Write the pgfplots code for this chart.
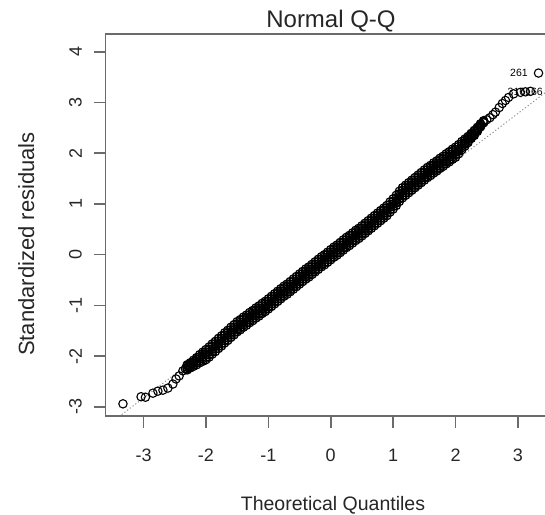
\documentclass[border=0pt]{standalone}
\usepackage{fontspec}
\setmainfont{Liberation Sans}
\usepackage{pgfplots}
\usepackage{pgfplotstable}
\pgfplotsset{compat=1.18}
\definecolor{boxgray}{gray}{0.42}

\pgfplotstableread{
x yl ya ym yb yu
-2.30 -2.27 -2.25 -2.22 -2.19 -2.17
-2.25 -2.23 -2.21 -2.18 -2.15 -2.13
-2.20 -2.20 -2.17 -2.14 -2.11 -2.08
-2.15 -2.17 -2.13 -2.10 -2.06 -2.03
-2.10 -2.13 -2.09 -2.05 -2.01 -1.97
-2.05 -2.10 -2.05 -2.01 -1.96 -1.92
-2.00 -2.07 -2.02 -1.97 -1.92 -1.87
-1.95 -2.02 -1.97 -1.92 -1.87 -1.82
-1.90 -1.96 -1.91 -1.86 -1.81 -1.76
-1.85 -1.91 -1.86 -1.81 -1.76 -1.71
-1.80 -1.85 -1.80 -1.75 -1.70 -1.65
-1.75 -1.80 -1.75 -1.70 -1.65 -1.60
-1.70 -1.74 -1.69 -1.64 -1.59 -1.54
-1.65 -1.69 -1.64 -1.59 -1.54 -1.49
-1.60 -1.63 -1.58 -1.53 -1.48 -1.43
-1.55 -1.58 -1.53 -1.48 -1.43 -1.38
-1.50 -1.52 -1.47 -1.42 -1.37 -1.32
-1.45 -1.48 -1.43 -1.38 -1.33 -1.28
-1.40 -1.43 -1.38 -1.33 -1.28 -1.23
-1.35 -1.39 -1.34 -1.29 -1.24 -1.19
-1.30 -1.34 -1.29 -1.24 -1.19 -1.14
-1.25 -1.30 -1.25 -1.20 -1.15 -1.10
-1.20 -1.25 -1.20 -1.15 -1.10 -1.05
-1.15 -1.21 -1.16 -1.11 -1.06 -1.01
-1.10 -1.16 -1.11 -1.06 -1.01 -0.96
-1.05 -1.12 -1.07 -1.02 -0.97 -0.92
-1.00 -1.07 -1.02 -0.97 -0.92 -0.87
-0.95 -1.02 -0.97 -0.92 -0.87 -0.82
-0.90 -0.97 -0.92 -0.87 -0.82 -0.77
-0.85 -0.92 -0.87 -0.82 -0.77 -0.72
-0.80 -0.87 -0.82 -0.77 -0.72 -0.67
-0.75 -0.82 -0.77 -0.72 -0.67 -0.62
-0.70 -0.78 -0.73 -0.68 -0.63 -0.58
-0.65 -0.73 -0.68 -0.63 -0.58 -0.53
-0.60 -0.68 -0.63 -0.58 -0.53 -0.48
-0.55 -0.63 -0.58 -0.53 -0.48 -0.43
-0.50 -0.58 -0.53 -0.48 -0.43 -0.38
-0.45 -0.53 -0.48 -0.43 -0.38 -0.33
-0.40 -0.48 -0.43 -0.38 -0.33 -0.28
-0.35 -0.44 -0.39 -0.34 -0.29 -0.24
-0.30 -0.39 -0.34 -0.29 -0.24 -0.19
-0.25 -0.34 -0.29 -0.24 -0.19 -0.14
-0.20 -0.29 -0.24 -0.19 -0.14 -0.09
-0.15 -0.24 -0.19 -0.14 -0.09 -0.04
-0.10 -0.20 -0.15 -0.10 -0.05 0.00
-0.05 -0.15 -0.10 -0.05 0.00 0.05
0.00 -0.10 -0.05 0.00 0.05 0.10
0.05 -0.05 0.00 0.05 0.10 0.15
0.10 -0.01 0.04 0.09 0.14 0.19
0.15 0.04 0.09 0.14 0.19 0.24
0.20 0.09 0.14 0.19 0.24 0.29
0.25 0.14 0.19 0.24 0.29 0.34
0.30 0.18 0.23 0.28 0.33 0.38
0.35 0.23 0.28 0.33 0.38 0.43
0.40 0.28 0.33 0.38 0.43 0.48
0.45 0.32 0.37 0.42 0.47 0.52
0.50 0.37 0.42 0.47 0.52 0.57
0.55 0.42 0.47 0.52 0.57 0.62
0.60 0.47 0.52 0.57 0.62 0.67
0.65 0.52 0.57 0.62 0.67 0.72
0.70 0.57 0.62 0.67 0.72 0.77
0.75 0.62 0.67 0.72 0.77 0.82
0.80 0.67 0.72 0.77 0.82 0.87
0.85 0.72 0.77 0.82 0.87 0.92
0.90 0.77 0.82 0.87 0.92 0.97
0.95 0.84 0.89 0.94 0.99 1.04
1.00 0.90 0.95 1.00 1.05 1.10
1.05 0.97 1.02 1.07 1.12 1.17
1.10 1.05 1.10 1.15 1.20 1.25
1.15 1.12 1.17 1.22 1.27 1.32
1.20 1.17 1.22 1.27 1.32 1.37
1.25 1.22 1.27 1.32 1.37 1.42
1.30 1.27 1.32 1.37 1.42 1.47
1.35 1.32 1.37 1.42 1.47 1.52
1.40 1.37 1.42 1.47 1.52 1.57
1.45 1.42 1.47 1.52 1.57 1.62
1.50 1.47 1.52 1.57 1.62 1.67
1.55 1.52 1.57 1.62 1.67 1.72
1.60 1.56 1.61 1.66 1.71 1.76
1.65 1.61 1.66 1.71 1.76 1.81
1.70 1.65 1.70 1.75 1.80 1.85
1.75 1.70 1.75 1.80 1.85 1.90
1.80 1.74 1.79 1.84 1.89 1.94
1.85 1.79 1.84 1.89 1.94 1.99
1.90 1.83 1.88 1.93 1.98 2.03
1.95 1.88 1.93 1.98 2.03 2.08
2.00 1.92 1.97 2.02 2.07 2.12
2.05 1.99 2.04 2.08 2.13 2.17
2.10 2.07 2.11 2.15 2.19 2.23
2.15 2.14 2.18 2.21 2.25 2.28
2.20 2.21 2.24 2.27 2.30 2.33
2.25 2.29 2.31 2.34 2.37 2.39
2.30 2.35 2.37 2.40 2.43 2.45
2.35 2.43 2.45 2.47 2.49 2.51
2.40 2.52 2.53 2.55 2.57 2.58
2.45 2.60 2.61 2.62 2.63 2.64
}\band

\pgfplotstableread{
x y
-3.33 -2.94
-3.04 -2.80
-2.97 -2.81
-2.85 -2.73
-2.77 -2.69
-2.69 -2.67
-2.61 -2.63
-2.53 -2.55
-2.48 -2.45
-2.43 -2.39
-2.37 -2.29
-2.33 -2.25
2.50 2.66
2.55 2.70
2.60 2.76
2.64 2.81
2.70 2.90
2.75 2.98
2.80 3.04
2.85 3.10
2.93 3.17
3.04 3.20
3.12 3.21
3.20 3.22
3.33 3.58
}\tails

\begin{document}
\begin{tikzpicture}
\useasboundingbox (0,0) rectangle (545bp,515bp);
\clip (0,0) rectangle (545bp,515bp);
\begin{axis}[
  at={(105.5bp,99bp)}, anchor=south west, scale only axis,
  width=450.5bp, height=382bp,
  xmin=-3.61, xmax=3.61, ymin=-3.18, ymax=4.35,
  axis line style={boxgray, line width=1.6bp},
  xtick={-3,-2,-1,0,1,2,3}, ytick={-3,-2,-1,0,1,2,3,4},
  xticklabels={-3,-2,-1,0,1,2,3}, yticklabels={-3,-2,-1,0,1,2,3,4},
  tick align=outside, xtick pos=left, ytick pos=left,
  major tick length=11.5bp,
  every tick/.style={boxgray, line width=1.6bp},
  tick label style={font=\fontsize{18bp}{20bp}\selectfont, inner sep=0pt, text=black!85},
  xticklabel style={yshift=-21bp, anchor=north},
  yticklabel style={xshift=-12bp, rotate=90, anchor=south},
  mark size=4.2bp,
]
\addplot[boxgray!80, line width=0.9bp, dash pattern=on 1.2bp off 2.2bp] coordinates {(-3.61,-3.395) (3.61,3.355)};
\addplot[only marks, mark=o, black, mark options={line width=1.2bp}] table[x=x, y=yl] {\band};
\addplot[only marks, mark=o, black, mark options={line width=1.2bp}] table[x=x, y=ya] {\band};
\addplot[only marks, mark=o, black, mark options={line width=1.2bp}] table[x=x, y=ym] {\band};
\addplot[only marks, mark=o, black, mark options={line width=1.2bp}] table[x=x, y=yb] {\band};
\addplot[only marks, mark=o, black, mark options={line width=1.2bp}] table[x=x, y=yu] {\band};
\addplot[only marks, mark=o, black, mark options={line width=1.1bp}] table[x=x, y=y] {\tails};
\node[anchor=east, inner sep=0pt, font=\fontsize{10.5bp}{12bp}\selectfont] at (axis cs:3.16,3.58) {261};
\node[anchor=east, inner sep=0pt, font=\fontsize{10.5bp}{12bp}\selectfont] at (axis cs:3.12,3.21) {316};
\node[anchor=east, inner sep=0pt, font=\fontsize{10.5bp}{12bp}\selectfont] at (axis cs:3.40,3.21) {166};
\end{axis}
\node[anchor=base, inner sep=0pt, text=black!85, font=\fontsize{24bp}{28bp}\selectfont] at (331bp,487bp) {Normal Q-Q};
\node[anchor=base, inner sep=0pt, text=black!85, font=\fontsize{19.5bp}{22bp}\selectfont] at (333bp,5bp) {Theoretical Quantiles};
\node[anchor=base, rotate=90, inner sep=0pt, text=black!85, font=\fontsize{22bp}{26bp}\selectfont] at (34bp,271bp) {Standardized residuals};
\end{tikzpicture}
\end{document}
